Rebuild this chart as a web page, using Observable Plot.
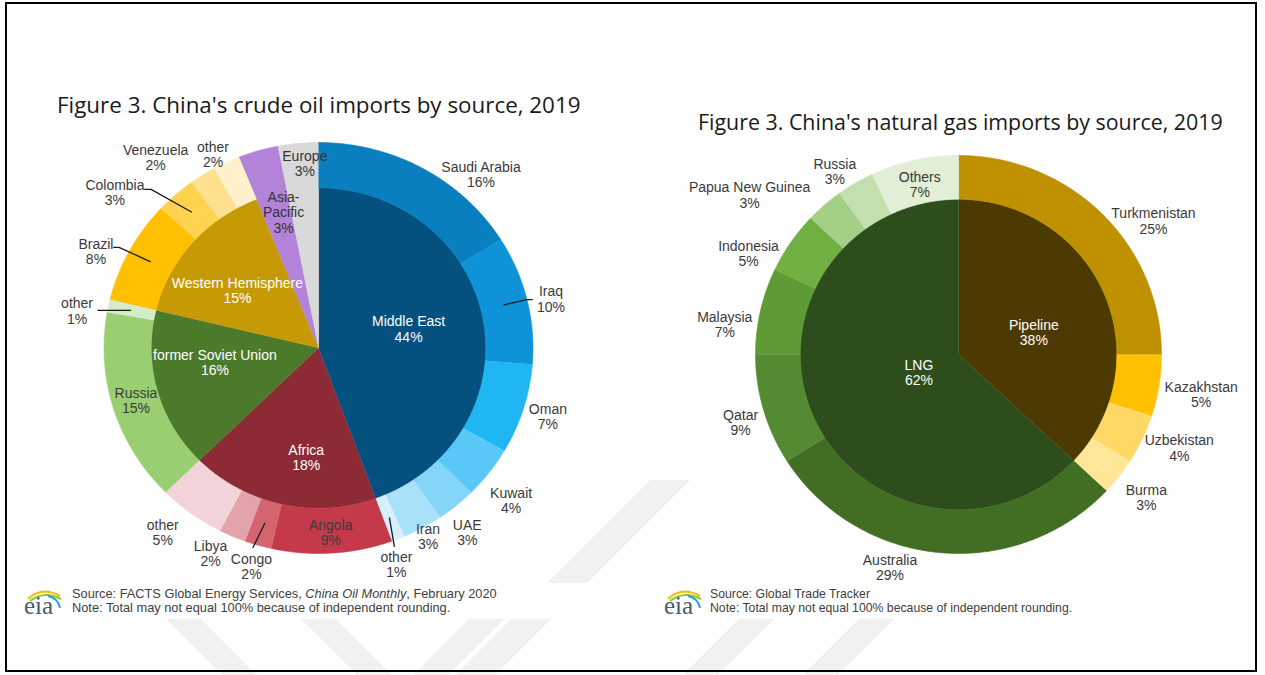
<!DOCTYPE html>
<html><head><meta charset="utf-8">
<script src="https://cdn.jsdelivr.net/npm/d3@7"></script>
<script src="https://cdn.jsdelivr.net/npm/@observablehq/plot@0.6"></script>
<style>
body{margin:0;background:#fff;}
#page{position:relative;width:1265px;height:675px;overflow:hidden;background:#fff;font-family:"Liberation Sans",Arial,sans-serif;}
.frame{position:absolute;left:5px;top:2px;width:1248px;height:666px;border:2px solid #000;z-index:10;pointer-events:none;}
.title{position:absolute;font-family:"Open Sans","Noto Sans",sans-serif;color:#1a1a1a;white-space:nowrap;line-height:1;}
.note{position:absolute;background:#fff;color:#404040;line-height:14px;white-space:nowrap;padding:0 0 2px 0;}
.chart{position:absolute;top:0;width:640px;height:675px;overflow:visible;}
.chart svg{max-width:none !important;}
.logo{position:absolute;}
#wm{position:absolute;left:0;top:0;}
</style></head>
<body><div id="page">
<svg id="wm" width="1265" height="675">
  <g fill="#f1f1f1">
    <polygon points="165,618 200,618 257,675 222,675"/>
    <polygon points="300,618 335,618 392,675 357,675"/>
    <polygon points="470,618 505,618 448,675 413,675"/>
    <polygon points="650,480 690,480 495,675 455,675"/>
    <polygon points="740,618 775,618 718,675 683,675"/>
    <polygon points="860,618 895,618 838,675 803,675"/>
  </g>
  <rect x="20" y="583" width="578" height="36" fill="#fff"/>
  <rect x="658" y="583" width="430" height="36" fill="#fff"/>
</svg>
<div class="chart" id="oil" style="left:0px"></div>
<div class="chart" id="gas" style="left:640px"></div>
<div class="title" style="left:57px;top:94px;font-size:22.4px">Figure 3. China's crude oil imports by source, 2019</div>
<div class="title" style="left:698px;top:110.5px;font-size:21.4px">Figure 3. China's natural gas imports by source, 2019</div>
<svg class="logo" style="left:22px;top:584px" width="42" height="34">
  <path d="M6,15 Q20,2 38,12" fill="none" stroke="#f2c200" stroke-width="2.2"/>
  <path d="M8,17 Q22,6 39,15" fill="none" stroke="#8cc63f" stroke-width="2"/>
  <path d="M26,12 Q36,14 38,24" fill="none" stroke="#2e9fd9" stroke-width="2"/>
  <text x="2" y="30" font-family="Liberation Serif, serif" font-size="25" fill="#4a5a6e">eia</text>
</svg>
<div class="note" style="left:72px;top:587px;font-size:12.8px">Source: FACTS Global Energy Services, <i>China Oil Monthly</i>, February 2020<br>Note: Total may not equal 100% because of independent rounding.</div>
<svg class="logo" style="left:662px;top:584px" width="42" height="34">
  <path d="M6,15 Q20,2 38,12" fill="none" stroke="#f2c200" stroke-width="2.2"/>
  <path d="M8,17 Q22,6 39,15" fill="none" stroke="#8cc63f" stroke-width="2"/>
  <path d="M26,12 Q36,14 38,24" fill="none" stroke="#2e9fd9" stroke-width="2"/>
  <text x="2" y="30" font-family="Liberation Serif, serif" font-size="25" fill="#4a5a6e">eia</text>
</svg>
<div class="note" style="left:710px;top:587px;font-size:12.25px">Source: Global Trade Tracker<br>Note: Total may not equal 100% because of independent rounding.</div>
<div class="frame"></div>
</div>
<script>
// ---------- DATA: crude oil ----------
const oilRegions = ["Middle East","Africa","former Soviet Union","Western Hemisphere","Asia-Pacific","Europe"];
const oilRegionShares = [44,18,16,15,3,3];
const oilCountries = ["Saudi Arabia","Iraq","Oman","Kuwait","UAE","Iran","other","Angola","Congo","Libya","other","Russia","other","Brazil","Colombia","Venezuela","other"];
const oilCountryRegion = ["Middle East","Middle East","Middle East","Middle East","Middle East","Middle East","Middle East","Africa","Africa","Africa","Africa","former Soviet Union","former Soviet Union","Western Hemisphere","Western Hemisphere","Western Hemisphere","Western Hemisphere"];
const oilCountryShares = [16,10,7,4,3,3,1,9,2,2,5,15,1,8,3,2,2];

// ---------- DATA: natural gas ----------
const gasTypes = ["Pipeline","LNG"];
const gasTypeShares = [38,62];
const gasSources = ["Turkmenistan","Kazakhstan","Uzbekistan","Burma","Australia","Qatar","Malaysia","Indonesia","Papua New Guinea","Russia","Others"];
const gasSourceType = ["Pipeline","Pipeline","Pipeline","Pipeline","LNG","LNG","LNG","LNG","LNG","LNG","LNG"];
const gasSourceShares = [25,5,4,3,29,9,7,5,3,3,7];

// ---------- STYLES ----------
const oilRegionColors = ["#04517f","#8c2a36","#4b7a2b","#c69a05","#b283d8","#d9d9d9"];
const oilRegionText = ["#fff","#fff","#fff","#fff","#333","#333"];
const oilCountryColors = ["#0a7fc0","#0f93d8","#1fb6f3","#59c8f7","#85d5f8","#a9e1fa","#d5f0fc","#c43a4b","#d4646f","#e3a3ab","#f2d3d8","#99cf70","#d6ecc8","#ffc000","#ffd350","#ffe08e","#fff1cc"];
const gasTypeColors = ["#4d3a03","#2e4d1c"];
const gasTypeText = ["#fff","#fff"];
const gasSourceColors = ["#bf9000","#ffc000","#ffd966","#ffe699","#426e24","#548a32","#5e9a36","#70b043","#a3cf86","#c2e0ae","#e0efd6"];

// ---------- LAYOUT (label placement: [angle offset deg, radius]) ----------
const oilRegionLabelPos = [[-2.4,0.43],[-6.6,0.536],[7.1,0.488],[-4.3,0.471],[2.5,0.68],[1.4,0.9]];
const oilCountryLabelPos = [[12.8,1.135],[1.2,1.11],[0,1.12],[2.3,1.165],[2.3,1.134],[0,1.05],[2.8,1.114],[0,0.9],[0,1.109],[3.1,1.119],[2.6,1.155],[0.5,0.889],[-2.7,1.14],[-3.8,1.139],[-9.6,1.214],[-6.6,1.198],[-2.1,1.063]];
// leader lines: [country index, start radius, end angle offset, end radius, horizontal stub]
const oilLeaders = [[1,0.89,0,1.0,0.025],[6,0.89,1.7,1.028,0],[8,0.89,1.1,1.018,0],[12,0.895,-1.7,1.044,0],[13,0.89,-0.4,1.051,-0.025],[14,0.888,-3.5,1.098,-0.03]];
const gasTypeLabelPos = [[6.9,0.387],[-1.6,0.215]];
const gasSourceLabelPos = [[10.1,1.171],[0.5,1.212],[-1.8,1.185],[0,1.171],[12.1,1.122],[-1.4,1.126],[-5.2,1.161],[-8.2,1.151],[-10.7,1.304],[-2.9,1.104],[0,0.875]];

const R_IN = 0.78;
const deg = Math.PI / 180;
const polar = (a, r) => [r * Math.sin(a * deg), r * Math.cos(a * deg)];

function wedge(id, a0, a1, r0, r1, color) {
  const pts = [];
  const n = Math.max(2, Math.ceil((a1 - a0) / 0.5));
  for (let i = 0; i <= n; i++) { const [x, y] = polar(a0 + (a1 - a0) * i / n, r1); pts.push({id, x, y, color}); }
  if (r0 === 0) pts.push({id, x: 0, y: 0, color});
  else for (let i = n; i >= 0; i--) { const [x, y] = polar(a0 + (a1 - a0) * i / n, r0); pts.push({id, x, y, color}); }
  return pts;
}

function sunburst(cfg) {
  const {parents, parentShares, parentColors, parentText, parentPos,
         kids, kidParent, kidShares, kidColors, kidPos, leaders = [],
         cx, cy, rx, ry, fontSize, lineHeight, el} = cfg;
  const pVal = parents.map((p, i) => {
    const s = d3.sum(kidShares.filter((_, j) => kidParent[j] === p));
    return s > 0 ? s : parentShares[i];
  });
  const total = d3.sum(pVal);
  const scale = 360 / total;
  const wedges = [], labels = [], lines = [];
  let a = 0;
  parents.forEach((p, i) => {
    const a0 = a, a1 = a + pVal[i] * scale;
    const hasKids = kidParent.includes(p);
    wedges.push(...wedge("p" + i, a0, a1, 0, hasKids ? R_IN : 1, parentColors[i]));
    const [da, r] = parentPos[i];
    const [x, y] = polar((a0 + a1) / 2 + da, r);
    labels.push({x, y, text: p.replace("Asia-", "Asia-\n") + "\n" + parentShares[i] + "%", fill: parentText[i]});
    a = a1;
  });
  a = 0;
  const kidMid = [];
  kids.forEach((k, j) => {
    const a0 = a, a1 = a + kidShares[j] * scale;
    wedges.push(...wedge("k" + j, a0, a1, R_IN, 1, kidColors[j]));
    const mid = (a0 + a1) / 2;
    kidMid.push(mid);
    const [da, r] = kidPos[j];
    const [x, y] = polar(mid + da, r);
    labels.push({x, y, text: k + "\n" + kidShares[j] + "%", fill: "#3a3a3a"});
    a = a1;
    const nextParent = kidParent[j + 1];
    if (nextParent !== kidParent[j]) {
      let idx = parents.indexOf(kidParent[j]) + 1;
      while (idx < parents.length && parents[idx] !== nextParent) { a += pVal[idx] * scale; idx++; }
    }
  });
  leaders.forEach(([j, r0, da, r1, stub], n) => {
    const [x0, y0] = polar(kidMid[j], r0);
    const [x1, y1] = polar(kidMid[j] + da, r1);
    lines.push({id: n, x: x0, y: y0}, {id: n, x: x1, y: y1});
    if (stub) lines.push({id: n, x: x1 + stub, y: y1});
  });
  const plot = Plot.plot({
    width: 640, height: 675, margin: 0,
    x: {domain: [-1, 1], range: [cx - rx, cx + rx], axis: null},
    y: {domain: [-1, 1], range: [cy + ry, cy - ry], axis: null},
    color: {type: "identity"},
    style: {background: "transparent", overflow: "visible", maxWidth: "none"},
    marks: [
      Plot.line(wedges, {x: "x", y: "y", z: "id", fill: "color", stroke: "color", strokeWidth: 0.6, curve: "linear"}),
      Plot.line(lines, {x: "x", y: "y", z: "id", stroke: "#1a1a1a", strokeWidth: 1.3, curve: "linear"}),
      Plot.text(labels, {x: "x", y: "y", text: "text", fill: "fill", fontSize, lineHeight,
        fontFamily: "Liberation Sans, Arial, sans-serif"})
    ]
  });
  document.getElementById(el).append(plot);
}

sunburst({
  parents: oilRegions, parentShares: oilRegionShares, parentColors: oilRegionColors, parentText: oilRegionText, parentPos: oilRegionLabelPos,
  kids: oilCountries, kidParent: oilCountryRegion, kidShares: oilCountryShares, kidColors: oilCountryColors, kidPos: oilCountryLabelPos,
  leaders: oilLeaders, cx: 318, cy: 347.5, rx: 214.5, ry: 205.5, fontSize: 14, lineHeight: 1.1, el: "oil"
});
sunburst({
  parents: gasTypes, parentShares: gasTypeShares, parentColors: gasTypeColors, parentText: gasTypeText, parentPos: gasTypeLabelPos,
  kids: gasSources, kidParent: gasSourceType, kidShares: gasSourceShares, kidColors: gasSourceColors, kidPos: gasSourceLabelPos,
  cx: 318, cy: 354, rx: 203, ry: 199, fontSize: 14, lineHeight: 1.08, el: "gas"
});
</script>
</body></html>
